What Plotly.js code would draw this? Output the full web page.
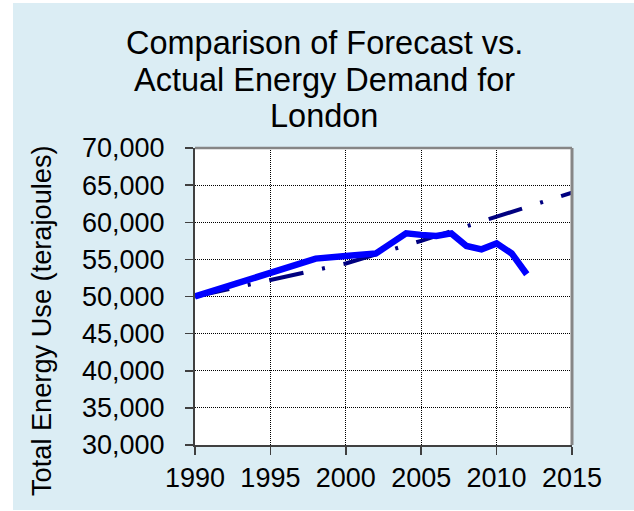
<!DOCTYPE html>
<html>
<head>
<meta charset="utf-8">
<script src="https://cdn.plot.ly/plotly-3.0.1.min.js"></script>
<style>
  html, body { margin: 0; padding: 0; background: #ffffff; width: 634px; height: 511px; overflow: hidden; }
  #chart { position: absolute; left: 13px; top: 3px; width: 621px; height: 507px; }
</style>
</head>
<body>
<div id="chart"></div>
<script>
// ---- Data ----
const forecastYears = [1990, 1995, 2000, 2005, 2010, 2015];
const forecastValues = [50000, 52200, 54450, 57500, 60800, 64000];

const actualYears = [1990, 1995, 1998, 2000, 2002, 2003, 2004, 2005, 2006, 2007, 2008, 2009, 2010, 2011, 2012];
const actualValues = [50000, 53200, 55100, 55450, 55800, 57150, 58500, 58300, 58150, 58500, 56800, 56350, 57150, 55800, 53000];

const titleLines = ["Comparison of Forecast vs.", "Actual Energy Demand for", "London"];
const yTitle = "Total Energy Use (terajoules)";
const xTicks = [1990, 1995, 2000, 2005, 2010, 2015];
const yTicks = [30000, 35000, 40000, 45000, 50000, 55000, 60000, 65000, 70000];

// ---- Layout geometry (pixels inside the chart div) ----
const W = 621, H = 507;
const M = { l: 182, r: 62, t: 145, b: 65 };
const PW = W - M.l - M.r, PH = H - M.t - M.b;
const px2x = px => (px - M.l) / PW;
const py2y = py => (H - M.b - py) / PH;

const FONT = "Liberation Sans, Arial, Helvetica, sans-serif";

const traces = [
  {
    x: forecastYears, y: forecastValues, type: "scatter", mode: "lines",
    name: "Forecast",
    line: { color: "#000080", width: 4, dash: "35px,19px,3px,19px" },
    hoverinfo: "skip"
  },
  {
    x: actualYears, y: actualValues, type: "scatter", mode: "lines",
    name: "Actual",
    line: { color: "#0000ff", width: 6.5 },
    hoverinfo: "skip"
  }
];

const titleCenters = [40, 76.7, 113.4];
const annotations = titleLines.map((t, i) => ({
  text: t, xref: "paper", yref: "paper",
  x: px2x(311), y: py2y(titleCenters[i]),
  xanchor: "center", yanchor: "middle", showarrow: false,
  font: { family: FONT, size: 32.5, color: "#000000" }
}));
annotations.push({
  text: yTitle, xref: "paper", yref: "paper",
  x: px2x(28), y: py2y(318), textangle: -90,
  xanchor: "center", yanchor: "middle", showarrow: false,
  font: { family: FONT, size: 27.2, color: "#000000" }
});

const axisCommon = {
  showgrid: true, gridcolor: "#000000", gridwidth: 1, griddash: "1px,1px",
  showline: true, linecolor: "#404040", linewidth: 2,
  ticks: "outside", ticklen: 8, tickwidth: 1.5, tickcolor: "#404040",
  tickfont: { family: FONT, size: 27, color: "#000000" },
  zeroline: false, fixedrange: true
};

const layout = {
  width: W, height: H,
  margin: M,
  paper_bgcolor: "#dbedf4",
  plot_bgcolor: "#ffffff",
  showlegend: false,
  font: { family: FONT, color: "#000000" },
  xaxis: Object.assign({}, axisCommon, {
    range: [1990, 2015], tickmode: "array", tickvals: xTicks,
    ticktext: xTicks.map(String), ticklabelstandoff: 0
  }),
  yaxis: Object.assign({}, axisCommon, {
    range: [30000, 70000], tickmode: "array", tickvals: yTicks,
    tickformat: ",d", ticklabelstandoff: 15
  }),
  annotations: annotations,
  shapes: [
    { type: "line", xref: "paper", yref: "paper", x0: 0, x1: 1, y0: 1, y1: 1,
      line: { color: "#868686", width: 2.5 } },
    { type: "line", xref: "paper", yref: "paper", x0: 1, x1: 1, y0: 0, y1: 1,
      line: { color: "#868686", width: 3 } }
  ]
};

Plotly.newPlot("chart", traces, layout, { staticPlot: true, displayModeBar: false });
</script>
</body>
</html>
